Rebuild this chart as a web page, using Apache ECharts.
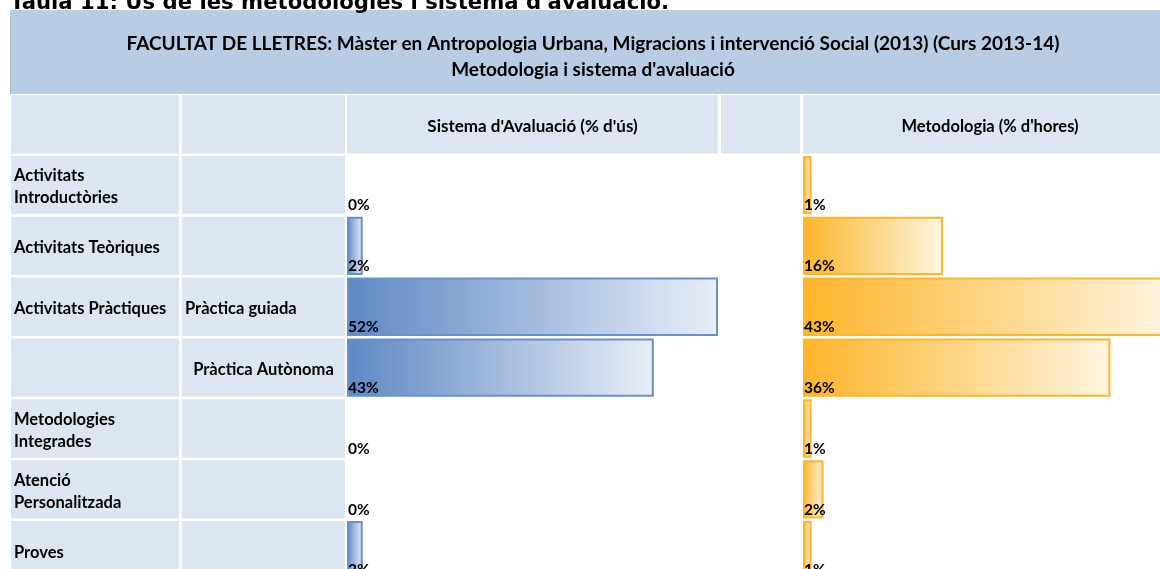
<!DOCTYPE html>
<html>
<head>
<meta charset="utf-8">
<script src="https://cdn.jsdelivr.net/npm/echarts@6/dist/echarts.min.js"></script>
<style>
  html, body { margin: 0; padding: 0; background: #fff; overflow: hidden; }
  #main { width: 1180px; height: 592px; }
</style>
</head>
<body>
<div id="main"></div>
<script>
// files de la taula (0 = fila de capçalera)
const rowKeys = ['0', '1', '2', '3', '4', '5', '6', '7'];
const rowLabels = ['', 'Activitats\nIntroductòries', 'Activitats Teòriques', 'Activitats Pràctiques', '',
  'Metodologies\nIntegrades', 'Atenció\nPersonalitzada', 'Proves'];
const subLabels = ['', '', '', 'Pràctica guiada', 'Pràctica Autònoma', '', '', ''];
const colHeaders = ["Sistema d'Avaluació (% d'ús)", "Metodologia (% d'hores)"];
const avaluacio = [0, 2.2, 52, 43, 0, 0, 2.2];
const metodologia = [1, 16.4, 43, 36, 1, 2.4, 1];

const FONT = 'Lato';
const cellColor = '#DCE6F1';
const gap = '4.1%';

const chart = echarts.init(document.getElementById('main'));

const cols = [
  { left: 11, width: 168, max: 1 },
  { left: 182, width: 163, max: 1 },
  { left: 347, width: 371, max: 52 },
  { left: 721, width: 79, max: 1 },
  { left: 803, width: 374, max: 43.8 }
];

function barItems(values, border) {
  return ['-'].concat(values.map(v => ({
    value: v,
    itemStyle: { borderWidth: v > 0 ? 2 : 0, borderColor: border }
  })));
}

function headerCell(text, max) {
  return rowKeys.map((k, i) => i === 0 ? { value: max, label: { show: !!text, formatter: text } } : '-');
}

const valueLabel = {
  show: true,
  position: 'insideBottomLeft',
  distance: 1,
  formatter: p => Math.round(p.value) + '%',
  color: '#000',
  fontFamily: FONT,
  fontWeight: 'bold',
  fontSize: 15.5
};

const cellLabel = {
  show: true,
  color: '#000',
  fontFamily: FONT,
  fontWeight: 'bold',
  fontSize: 16.5,
  lineHeight: 22,
  offset: [0, 2]
};

chart.setOption({
  animation: false,
  title: [
    {
      text: "Taula 11: Ús de les metodologies i sistema d'avaluació.",
      left: 10,
      top: -7,
      padding: 0,
      textStyle: { fontFamily: 'DejaVu Sans', fontWeight: 'bold', fontSize: 21.2, color: '#000' }
    },
    {
      text: 'FACULTAT DE LLETRES: Màster en Antropologia Urbana, Migracions i intervenció Social (2013) (Curs 2013-14)\nMetodologia i sistema d\'avaluació',
      left: 588,
      top: 26,
      textAlign: 'center',
      textStyle: { fontFamily: FONT, fontWeight: 'bold', fontSize: 19, lineHeight: 26, color: '#000' }
    }
  ],
  graphic: [
    { type: 'rect', z: -10, shape: { x: 10, y: 10, width: 1170, height: 84 }, style: { fill: '#B8CCE4' } },
    { type: 'line', z: -9, shape: { x1: 10.5, y1: 10, x2: 10.5, y2: 94 }, style: { stroke: '#9AA8B8', lineWidth: 1, lineDash: [1, 1] } },
    { type: 'line', z: -9, shape: { x1: 10, y1: 10.5, x2: 1170, y2: 10.5 }, style: { stroke: '#C8D4E2', lineWidth: 1, lineDash: [1, 1] } }
  ],
  grid: cols.map(c => ({ left: c.left, width: c.width, top: 93.8, height: 486.8 })),
  xAxis: cols.map((c, i) => ({ type: 'value', gridIndex: i, min: 0, max: c.max, show: false })),
  yAxis: cols.map((c, i) => ({ type: 'category', gridIndex: i, data: rowKeys, inverse: true, show: false })),
  series: [
    {
      type: 'bar', xAxisIndex: 0, yAxisIndex: 0, barCategoryGap: gap,
      data: rowKeys.map(() => 1),
      itemStyle: { color: cellColor },
      label: Object.assign({}, cellLabel, { position: 'insideLeft', distance: 3, formatter: p => rowLabels[p.dataIndex] })
    },
    {
      type: 'bar', xAxisIndex: 1, yAxisIndex: 1, barCategoryGap: gap,
      data: rowKeys.map((k, i) => subLabels[i] === 'Pràctica Autònoma'
        ? { value: 1, label: { position: 'inside' } } : 1),
      itemStyle: { color: cellColor },
      label: Object.assign({}, cellLabel, { position: 'insideLeft', distance: 3, formatter: p => subLabels[p.dataIndex] })
    },
    {
      type: 'bar', xAxisIndex: 2, yAxisIndex: 2, barGap: '-100%', barCategoryGap: gap,
      data: headerCell(colHeaders[0], 52),
      itemStyle: { color: cellColor },
      label: Object.assign({}, cellLabel, { position: 'inside', fontSize: 17 })
    },
    {
      type: 'bar', xAxisIndex: 2, yAxisIndex: 2, barGap: '-100%', barCategoryGap: gap,
      data: barItems(avaluacio, '#6890CA'),
      itemStyle: {
        color: new echarts.graphic.LinearGradient(0, 0, 1, 0, [
          { offset: 0, color: '#5E88C4' },
          { offset: 1, color: '#E9EEF7' }
        ])
      },
      label: valueLabel
    },
    {
      type: 'bar', xAxisIndex: 3, yAxisIndex: 3, barCategoryGap: gap,
      data: headerCell('', 1),
      itemStyle: { color: cellColor }
    },
    {
      type: 'bar', xAxisIndex: 4, yAxisIndex: 4, barGap: '-100%', barCategoryGap: gap,
      data: headerCell(colHeaders[1], 43.8),
      itemStyle: { color: cellColor },
      label: Object.assign({}, cellLabel, { position: 'inside' })
    },
    {
      type: 'bar', xAxisIndex: 4, yAxisIndex: 4, barGap: '-100%', barCategoryGap: gap,
      data: barItems(metodologia, '#FDB52B'),
      itemStyle: {
        color: new echarts.graphic.LinearGradient(0, 0, 1, 0, [
          { offset: 0, color: '#FDB52A' },
          { offset: 1, color: '#FFF5E0' }
        ])
      },
      label: valueLabel
    }
  ]
});
</script>
</body>
</html>
